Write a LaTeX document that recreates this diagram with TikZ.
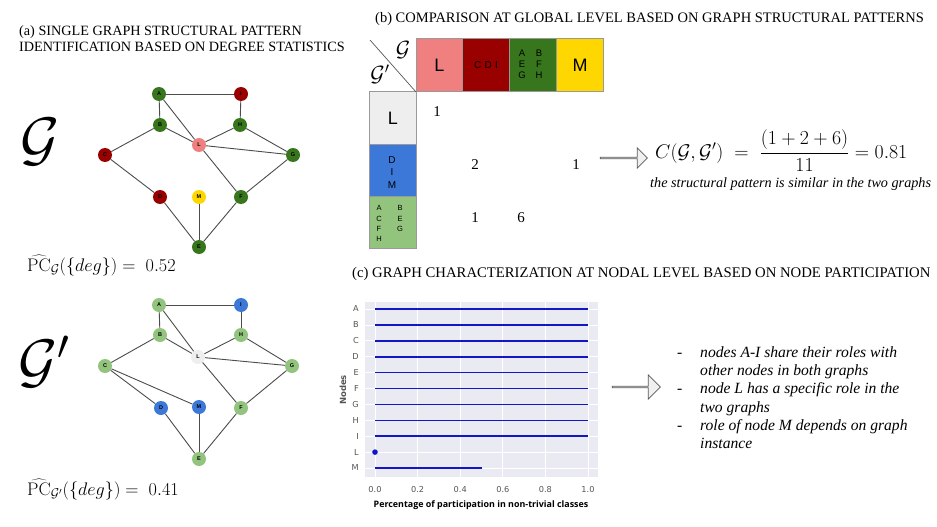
\RequirePackage{fix-cm}
\documentclass[tikz,border=0pt]{standalone}
\usepackage[no-math]{fontspec}
\setmainfont{Liberation Serif}
\newfontfamily\arialf{Liberation Sans}
\newfontfamily\dejav{DejaVu Sans}
\newfontfamily\opens{Open Sans}
\usetikzlibrary{shapes.arrows}
\definecolor{dgreen}{HTML}{38761D}
\definecolor{dred}{HTML}{990000}
\definecolor{pinkc}{HTML}{F08080}
\definecolor{goldc}{HTML}{FFD700}
\definecolor{lgreen}{HTML}{93C47D}
\definecolor{bluec}{HTML}{3C78D8}
\definecolor{lgray}{HTML}{EEEEEE}
\definecolor{chartbg}{HTML}{EAEAF2}
\definecolor{plotblue}{HTML}{1515C8}
\definecolor{ticklab}{HTML}{555555}
\tikzset{
  gnode/.style={circle, minimum size=14pt, inner sep=0pt, font=\arialf\bfseries\fontsize{5.5}{5.5}\selectfont},
  gedge/.style={draw=gray!60!black, line width=0.9pt},
  titletext/.style={anchor=base west, inner sep=0pt},
  cell/.style={draw=gray!80, line width=1pt, inner sep=0pt, anchor=north west},
  numtext/.style={inner sep=0pt, font=\fontsize{15}{15}\selectfont},
  hollowarrow/.style={single arrow, draw=gray!70!black, fill=gray!12, line width=0.7pt, inner sep=0pt, single arrow head extend=5pt},
  bullettext/.style={anchor=base west, inner sep=0pt, font=\itshape\fontsize{15.6}{16}\selectfont},
  ticktext/.style={inner sep=0pt, text=ticklab, font=\dejav\fontsize{8.2}{8.5}\selectfont},
}
\begin{document}
\begin{tikzpicture}[x=1pt,y=-1pt]
\useasboundingbox (0,0) rectangle (937,527);
\fill[white] (0,0) rectangle (937,527);

% ---------- (a) ----------
\node[titletext, font=\fontsize{14.2}{16}\selectfont] (ta1) at (19,36) {(a) SINGLE GRAPH STRUCTURAL PATTERN};
\node[titletext, font=\fontsize{14.2}{16}\selectfont] (ta2) at (19,52) {IDENTIFICATION BASED ON DEGREE STATISTICS};

\node[inner sep=0pt] (bigG) at (40,142) {\fontsize{60}{60}\selectfont$\mathcal{G}$};
\node[inner sep=0pt] (bigGp) at (44,362) {\fontsize{60}{60}\selectfont$\mathcal{G}'$};

\node[anchor=base west, inner sep=0pt] (pc1) at (27,271) {\fontsize{18.2}{19}\selectfont$\widehat{\mathrm{PC}}_{\mathcal{G}}(\{deg\}) =\; 0.52$};
\node[anchor=base west, inner sep=0pt] (pc2) at (27,495) {\fontsize{18.2}{19}\selectfont$\widehat{\mathrm{PC}}_{\mathcal{G}'}(\{deg\}) =\; 0.41$};

% top graph
\node[gnode, fill=dgreen] (tA) at (159,94) {A};
\node[gnode, fill=dred]   (tI) at (241,94) {I};
\node[gnode, fill=dgreen] (tB) at (160,125) {B};
\node[gnode, fill=dgreen] (tH) at (240,125) {H};
\node[gnode, fill=pinkc]  (tL) at (199,145) {L};
\node[gnode, fill=dred]   (tC) at (105,155) {C};
\node[gnode, fill=dgreen] (tG) at (293,155) {G};
\node[gnode, fill=dred]   (tD) at (160,197) {D};
\node[gnode, fill=goldc]  (tM) at (199,197) {M};
\node[gnode, fill=dgreen] (tF) at (241,197) {F};
\node[gnode, fill=dgreen] (tE) at (199,247) {E};
\foreach \a/\b in {A/I,A/B,A/L,I/H,B/L,B/C,H/L,H/G,L/G,L/F,C/D,D/E,M/E,F/E,G/F}
  \draw[gedge] (t\a) -- (t\b);

% bottom graph
\node[gnode, fill=lgreen] (bA) at (159,305) {A};
\node[gnode, fill=bluec]  (bI) at (241,305) {I};
\node[gnode, fill=lgreen] (bB) at (160,335) {B};
\node[gnode, fill=lgreen] (bH) at (241,335) {H};
\node[gnode, fill=lgray]  (bL) at (198,357) {L};
\node[gnode, fill=lgreen] (bC) at (105,366) {C};
\node[gnode, fill=lgreen] (bG) at (292,366) {G};
\node[gnode, fill=bluec]  (bD) at (161,408) {D};
\node[gnode, fill=bluec]  (bM) at (199,407) {M};
\node[gnode, fill=lgreen] (bF) at (241,408) {F};
\node[gnode, fill=lgreen] (bE) at (199,459) {E};
\foreach \a/\b in {A/I,A/B,A/L,I/H,B/L,B/C,H/L,H/G,L/G,L/F,C/D,C/M,D/E,M/E,F/E,G/F}
  \draw[gedge] (b\a) -- (b\b);

% ---------- (b) ----------
\node[titletext, font=\fontsize{14.5}{16}\selectfont] (tb) at (375,23) {(b) COMPARISON AT GLOBAL LEVEL BASED ON GRAPH STRUCTURAL PATTERNS};

\node[cell, fill=pinkc, minimum width=46pt, minimum height=53pt] (cL) at (416,38) {};
\node[cell, fill=dred, minimum width=47pt, minimum height=53pt] (cCDI) at (462,38) {};
\node[cell, fill=dgreen, minimum width=47pt, minimum height=53pt] (cGr) at (509,38) {};
\node[cell, fill=goldc, minimum width=47pt, minimum height=53pt] (cM) at (556,38) {};
\node[cell, fill=lgray, minimum width=47pt, minimum height=53pt] (rL) at (369,91) {};
\node[cell, fill=bluec, minimum width=47pt, minimum height=52pt] (rDIM) at (369,144) {};
\node[cell, fill=lgreen, minimum width=47pt, minimum height=52pt] (rGr) at (369,196) {};

\node[inner sep=0pt, font=\arialf\fontsize{18}{18}\selectfont] (lL) at (cL.center) {L};
\node[inner sep=0pt, font=\arialf\fontsize{10}{10}\selectfont] (lCDI) at (cCDI.center) {C\,\,D\,\,I};
\node[inner sep=0pt, font=\arialf\fontsize{18}{18}\selectfont] (lM) at (cM.center) {M};
\begin{scope}[every node/.style={inner sep=0pt, font=\arialf\fontsize{9.5}{9.5}\selectfont}]
\node (gA) at (522,53) {A}; \node (gB) at (539,53) {B};
\node (gE) at (522,64) {E}; \node (gF) at (539,64) {F};
\node (gG) at (522,75) {G}; \node (gH) at (539,75) {H};
\end{scope}
\node[inner sep=0pt, font=\arialf\fontsize{18}{18}\selectfont] (lL2) at (rL.center) {L};
\begin{scope}[every node/.style={inner sep=0pt, font=\arialf\fontsize{10}{10}\selectfont}]
\node (dD) at (392,160) {D}; \node (dI) at (392,172) {I}; \node (dM) at (392,185) {M};
\end{scope}
\begin{scope}[every node/.style={inner sep=0pt, font=\arialf\fontsize{7.5}{7.5}\selectfont}]
\node (hA) at (379,208) {A}; \node (hB) at (400,208) {B};
\node (hC) at (379,219) {C}; \node (hE) at (400,219) {E};
\node (hF) at (379,229) {F}; \node (hG) at (400,229) {G};
\node (hH) at (379,239) {H};
\end{scope}

\coordinate (diagS) at (370,40);
\draw[gray!70!black, line width=0.7pt] (diagS) -- (cL.south west);
\node[inner sep=0pt] (cornG) at (403,50) {\fontsize{22}{22}\selectfont$\mathcal{G}$};
\node[inner sep=0pt] (cornGp) at (380,74) {\fontsize{22}{22}\selectfont$\mathcal{G}'$};

\node[numtext] (n1) at (437,112) {1};
\node[numtext] (n2) at (475,165) {2};
\node[numtext] (n3) at (576,165) {1};
\node[numtext] (n4) at (475,218) {1};
\node[numtext] (n5) at (521,218) {6};

\node[hollowarrow, minimum width=20pt, minimum height=47pt] (arr1) at (623.5,158) {};

\node[anchor=west, inner sep=0pt] (form) at (655,151) {\fontsize{19.8}{22}\selectfont$\displaystyle C\bigl(\mathcal{G},\mathcal{G}'\bigr)\;=\;\frac{(1+2+6)}{11}=0.81$};
\node[anchor=base west, inner sep=0pt, font=\itshape\fontsize{14.2}{15}\selectfont] (simtext) at (650,187) {the structural pattern is similar in the two graphs};

% ---------- (c) ----------
\node[titletext, font=\fontsize{14.7}{16}\selectfont] (tc) at (352,277) {(c) GRAPH CHARACTERIZATION AT NODAL LEVEL BASED ON NODE PARTICIPATION};

\fill[chartbg] (365,302) rectangle (598,477);
\foreach \v in {0,0.2,0.4,0.6,0.8,1.0}
  \draw[white, line width=0.8pt] ({375+213*\v},302) -- ({375+213*\v},477);
\foreach \n [count=\i from 0] in {A,B,C,D,E,F,G,H,I,L,M} {
  \draw[white, line width=0.8pt] (365,{309+15.9*\i}) -- (598,{309+15.9*\i});
  \node[ticktext, anchor=east] (row\n) at (359,{309+15.9*\i}) {\n};
}
\foreach \n [count=\i from 0] in {A,B,C,D,E,F,G,H,I}
  \draw[plotblue, line width=1.6pt] (375,{309+15.9*\i}) -- (588,{309+15.9*\i});
\fill[plotblue] (375,{309+15.9*9}) circle (2.8pt);
\draw[plotblue, line width=1.6pt] (375,{309+15.9*10}) -- ({375+213*0.5},{309+15.9*10});
\foreach \v/\t in {0/0.0,0.2/0.2,0.4/0.4,0.6/0.6,0.8/0.8,1.0/1.0}
  \node[ticktext] (tick\t) at ({375+213*\v},490) {\t};
\node[ticktext, rotate=90, font=\dejav\bfseries\fontsize{8.5}{8.5}\selectfont] (ylab) at (343,390) {Nodes};
\node[inner sep=0pt, font=\opens\bfseries\fontsize{8.9}{9}\selectfont] (xlab) at (481,505) {Percentage of participation in non-trivial classes};

\node[hollowarrow, minimum width=24pt, minimum height=48pt, single arrow head extend=6pt] (arr2) at (636,387) {};

\node[bullettext] (b1) at (700,357) {nodes A-I share their roles with};
\node[bullettext] (b2) at (700,375.3) {other nodes in both graphs};
\node[bullettext] (b3) at (700,393.6) {node L has a specific role in the};
\node[bullettext] (b4) at (700,412) {two graphs};
\node[bullettext] (b5) at (700,430.3) {role of node M depends on graph};
\node[bullettext] (b6) at (700,448.6) {instance};
\foreach \b in {b1,b3,b5}
  \node[anchor=base west, inner sep=0pt, font=\fontsize{15.6}{16}\selectfont] at ([xshift=-23pt]\b.base west) {-};
\end{tikzpicture}
\end{document}
